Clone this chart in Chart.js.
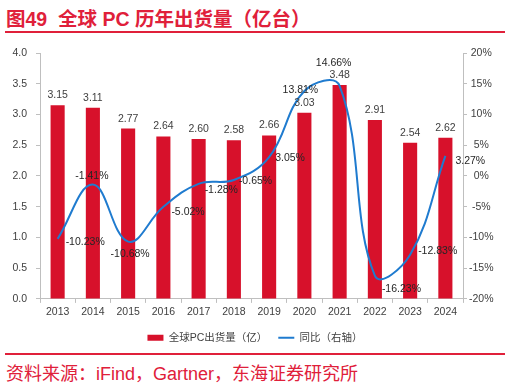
<!DOCTYPE html>
<html>
<head>
<meta charset="utf-8">
<script src="https://cdn.jsdelivr.net/npm/chart.js@4"></script>
<style>
    body { margin: 0; width: 510px; height: 383px; background: #fff; position: relative; overflow: hidden; }
    .title { position: absolute; left: 6px; top: 3px; font: bold 19.5px "Liberation Sans", "Noto Sans CJK SC", sans-serif; color: #E0203A; white-space: pre; }
    .rule { position: absolute; left: 5px; width: 500px; height: 2px; background: #E0203A; }
    .source { position: absolute; left: 6px; top: 359px; font: 18px "Liberation Sans", "Noto Sans CJK SC", sans-serif; color: #E0203A; white-space: pre; }
    #box { position: absolute; left: 0; top: 36px; width: 510px; height: 317px; }
</style>
</head>
<body>
<div class="title">图49  全球 PC 历年出货量（亿台）</div>
<div class="rule" style="top: 31px"></div>
<div id="box"><canvas id="chart"></canvas></div>
<div class="rule" style="top: 353px"></div>
<div class="source">资料来源：iFind，Gartner，东海证券研究所</div>

<script>
const years = ["2013", "2014", "2015", "2016", "2017", "2018", "2019", "2020", "2021", "2022", "2023", "2024"]
const shipments = [3.15, 3.11, 2.77, 2.64, 2.60, 2.58, 2.66, 3.03, 3.48, 2.91, 2.54, 2.62]
const yoy = [-10.23, -1.41, -10.68, -5.02, -1.28, -0.65, 3.05, 13.81, 14.66, -16.23, -12.83, 3.27]

// where each yoy label sits relative to its point: [dx, dy, align]
const yoyLabelPos = [
    [8, 3, "left"], [-1, -9, "center"], [2, 13, "center"], [8, 5, "left"],
    [6, 6, "left"], [5, 1, "left"], [6, 1, "left"], [-4, -1, "center"],
    [-6, -23, "center"], [7, 13, "left"], [8, -4, "left"], [10, 5, "left"]
]

const BAR_RED = "#D7112B"
const LINE_BLUE = "#1F7BCF"
const AXIS_GREY = "#BFBFBF"
const TEXT = "#404040"
const FONT = "\"Liberation Sans\", \"Noto Sans CJK SC\", sans-serif"

const dataLabels = {
    id: "dataLabels",
    afterDatasetsDraw(chart) {
        const ctx = chart.ctx
        ctx.save()
        ctx.font = "10.5px " + FONT
        ctx.textBaseline = "middle"

        ctx.fillStyle = TEXT
        ctx.textAlign = "center"
        chart.getDatasetMeta(0).data.forEach((bar, i) => {
            ctx.fillText(shipments[i].toFixed(2), bar.x, bar.y - 10)
        })

        ctx.fillStyle = "#262626"
        chart.getDatasetMeta(1).data.forEach((pt, i) => {
            const pos = yoyLabelPos[i]
            ctx.textAlign = pos[2]
            ctx.fillText(yoy[i].toFixed(2) + "%", pt.x + pos[0], pt.y + pos[1])
        })
        ctx.restore()
    }
}

Chart.defaults.font.family = FONT
Chart.defaults.font.size = 10.5
Chart.defaults.color = TEXT

new Chart(document.getElementById("chart"), {
    type: "bar",
    data: {
        labels: years,
        datasets: [{
            label: "全球PC出货量（亿）",
            data: shipments,
            backgroundColor: BAR_RED,
            barPercentage: 0.4,
            categoryPercentage: 1,
            yAxisID: "y",
            pointStyle: "rect",
            order: 2
        }, {
            type: "line",
            label: "同比（右轴）",
            data: yoy,
            borderColor: LINE_BLUE,
            backgroundColor: LINE_BLUE,
            borderWidth: 2,
            pointRadius: 0,
            tension: 0.4,
            yAxisID: "y1",
            pointStyle: "line",
            order: 1
        }]
    },
    options: {
        responsive: true,
        maintainAspectRatio: false,
        animation: false,
        layout: { padding: { top: 17, left: 0, right: 0, bottom: 0 } },
        plugins: {
            legend: {
                position: "bottom",
                labels: {
                    usePointStyle: true,
                    pointStyleWidth: 16,
                    boxHeight: 6,
                    padding: 11,
                    color: TEXT,
                    font: { size: 10.5 },
                    sort: (a, b) => a.datasetIndex - b.datasetIndex
                }
            },
            tooltip: { enabled: false }
        },
        scales: {
            x: {
                grid: { offset: true, drawOnChartArea: false, tickLength: 4, color: AXIS_GREY },
                border: { color: AXIS_GREY },
                ticks: { padding: 3 }
            },
            y: {
                position: "left",
                min: 0,
                max: 4,
                ticks: { stepSize: 0.5, padding: 9, callback: v => v.toFixed(1) },
                grid: { drawOnChartArea: false, tickLength: 4, color: AXIS_GREY },
                border: { color: AXIS_GREY },
                afterFit: scale => { scale.width = 40 }
            },
            y1: {
                position: "right",
                min: -20,
                max: 20,
                ticks: { stepSize: 5, padding: 2, crossAlign: "center", callback: v => v + "%" },
                grid: { drawOnChartArea: false, tickLength: 4, color: AXIS_GREY },
                border: { color: AXIS_GREY },
                afterFit: scale => { scale.width = 47 }
            }
        }
    },
    plugins: [dataLabels]
})
</script>
</body>
</html>
